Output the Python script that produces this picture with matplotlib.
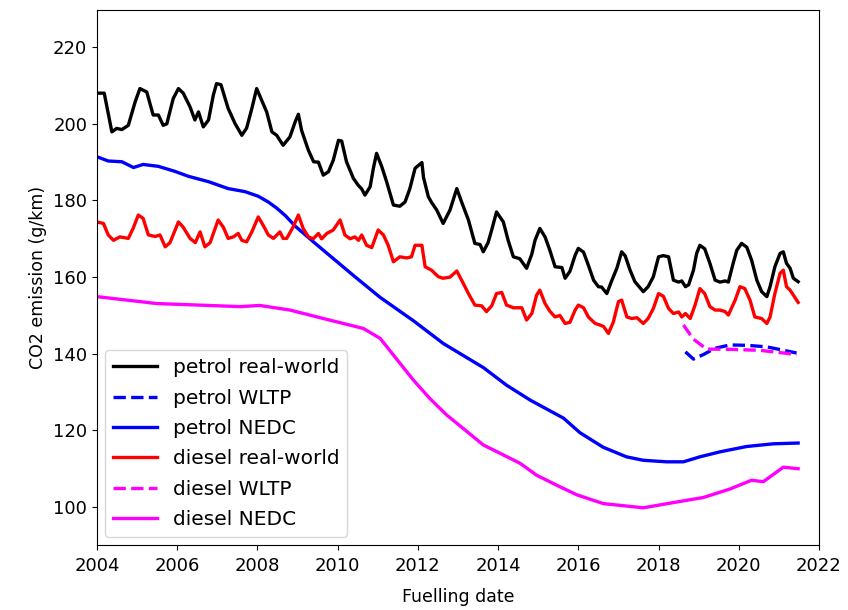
import matplotlib
matplotlib.use("Agg")
import matplotlib.pyplot as plt

# ---- data (decimal years, g/km) ----
petrol_rw_t = [2004.00, 2004.18, 2004.37, 2004.49, 2004.62, 2004.78, 2004.95, 2005.07, 2005.24, 2005.40,
               2005.53, 2005.65, 2005.74, 2005.90, 2006.03, 2006.15, 2006.32, 2006.44, 2006.53, 2006.65,
               2006.78, 2006.90, 2006.98, 2007.09, 2007.27, 2007.44, 2007.61, 2007.73, 2007.86, 2007.98,
               2008.11, 2008.23, 2008.36, 2008.48, 2008.64, 2008.81, 2008.94, 2009.02, 2009.10, 2009.27,
               2009.40, 2009.52, 2009.64, 2009.77, 2009.89, 2010.02, 2010.10, 2010.22, 2010.39, 2010.51,
               2010.60, 2010.68, 2010.81, 2010.89, 2010.97, 2011.10, 2011.22, 2011.39, 2011.55, 2011.68,
               2011.80, 2011.93, 2012.10, 2012.14, 2012.26, 2012.34, 2012.47, 2012.63, 2012.80, 2012.97,
               2013.09, 2013.26, 2013.42, 2013.55, 2013.63, 2013.75, 2013.84, 2013.96, 2014.13, 2014.25,
               2014.38, 2014.54, 2014.71, 2014.84, 2014.92, 2015.04, 2015.17, 2015.29, 2015.42, 2015.59,
               2015.67, 2015.79, 2015.92, 2016.00, 2016.13, 2016.25, 2016.38, 2016.50, 2016.58, 2016.71,
               2016.83, 2016.96, 2017.08, 2017.17, 2017.29, 2017.41, 2017.62, 2017.74, 2017.87, 2018.00,
               2018.12, 2018.25, 2018.37, 2018.50, 2018.58, 2018.67, 2018.75, 2018.87, 2018.95, 2019.03,
               2019.15, 2019.28, 2019.41, 2019.53, 2019.66, 2019.74, 2019.86, 2019.95, 2020.07, 2020.20,
               2020.32, 2020.45, 2020.57, 2020.70, 2020.78, 2020.90, 2021.03, 2021.11, 2021.19, 2021.28,
               2021.36, 2021.48]
petrol_rw = [208.0, 208.0, 197.9, 198.8, 198.5, 199.6, 205.7, 209.2, 208.3, 202.3,
             202.3, 199.6, 200.0, 206.6, 209.2, 208.0, 204.4, 201.0, 203.1, 199.2,
             201.0, 207.5, 210.5, 210.2, 204.0, 200.1, 197.0, 198.9, 204.0, 209.2,
             206.0, 203.1, 197.9, 197.0, 194.4, 196.6, 200.5, 202.5, 198.3, 193.1,
             190.1, 190.0, 186.6, 187.5, 190.5, 195.7, 195.5, 190.1, 185.8, 184.0,
             183.0, 181.4, 183.6, 188.4, 192.3, 188.8, 184.9, 178.8, 178.5, 179.6,
             183.1, 188.4, 189.9, 186.0, 181.0, 179.5, 177.5, 174.0, 177.5, 183.1,
             179.6, 174.9, 168.8, 168.5, 166.6, 169.0, 172.3, 177.0, 174.4, 169.6,
             165.3, 164.8, 162.3, 166.0, 169.6, 172.7, 170.5, 167.0, 162.7, 162.5,
             159.7, 161.5, 165.7, 167.5, 166.5, 163.1, 159.2, 157.5, 157.4, 155.7,
             159.0, 162.3, 166.6, 165.5, 161.8, 158.8, 156.2, 157.5, 160.1, 165.3,
             165.6, 165.3, 159.2, 158.7, 159.0, 157.5, 158.0, 161.8, 166.2, 168.3,
             167.4, 163.6, 159.2, 158.7, 159.0, 158.7, 163.6, 167.0, 168.8, 167.8,
             164.4, 159.2, 156.2, 154.9, 157.5, 162.7, 166.2, 166.6, 163.6, 162.3,
             159.7, 158.8]

diesel_rw_t = [2004.00, 2004.16, 2004.28, 2004.41, 2004.57, 2004.78, 2004.90, 2005.03, 2005.15, 2005.28,
               2005.45, 2005.57, 2005.70, 2005.82, 2006.03, 2006.15, 2006.32, 2006.45, 2006.57, 2006.69,
               2006.82, 2007.02, 2007.15, 2007.27, 2007.40, 2007.52, 2007.61, 2007.73, 2007.86, 2008.02,
               2008.15, 2008.27, 2008.40, 2008.56, 2008.64, 2008.73, 2008.89, 2009.02, 2009.14, 2009.27,
               2009.39, 2009.52, 2009.60, 2009.73, 2009.89, 2010.06, 2010.18, 2010.31, 2010.43, 2010.52,
               2010.60, 2010.72, 2010.85, 2011.01, 2011.14, 2011.26, 2011.39, 2011.55, 2011.72, 2011.84,
               2011.93, 2012.10, 2012.18, 2012.34, 2012.51, 2012.63, 2012.80, 2012.97, 2013.09, 2013.26,
               2013.42, 2013.59, 2013.71, 2013.84, 2013.96, 2014.09, 2014.21, 2014.38, 2014.59, 2014.71,
               2014.84, 2014.96, 2015.04, 2015.17, 2015.29, 2015.42, 2015.54, 2015.67, 2015.79, 2015.92,
               2016.00, 2016.13, 2016.25, 2016.42, 2016.54, 2016.63, 2016.75, 2016.87, 2017.00, 2017.08,
               2017.21, 2017.33, 2017.46, 2017.62, 2017.74, 2017.87, 2018.00, 2018.12, 2018.25, 2018.37,
               2018.50, 2018.58, 2018.67, 2018.79, 2018.91, 2019.03, 2019.15, 2019.28, 2019.41, 2019.53,
               2019.66, 2019.74, 2019.91, 2020.03, 2020.15, 2020.28, 2020.40, 2020.57, 2020.70, 2020.78,
               2020.90, 2021.03, 2021.11, 2021.19, 2021.28, 2021.36, 2021.48]
diesel_rw = [174.4, 174.0, 171.0, 169.6, 170.5, 170.1, 172.7, 176.2, 175.3, 171.0,
             170.6, 171.0, 167.9, 169.0, 174.4, 173.0, 170.1, 169.0, 171.8, 167.9,
             169.0, 174.9, 173.0, 170.1, 170.5, 171.4, 169.6, 169.2, 171.8, 175.7,
             173.4, 171.0, 170.1, 171.8, 170.1, 170.1, 173.1, 176.2, 172.7, 170.5,
             170.0, 171.4, 170.0, 171.4, 172.3, 174.9, 171.0, 170.0, 170.5, 169.6,
             171.0, 168.3, 167.7, 172.3, 171.0, 168.3, 164.0, 165.3, 165.0, 165.3,
             168.3, 168.3, 162.7, 161.8, 160.1, 159.7, 160.0, 161.6, 159.2, 155.7,
             152.7, 152.5, 151.0, 152.5, 155.7, 156.0, 152.7, 152.0, 152.0, 148.8,
             150.5, 155.3, 156.6, 153.1, 151.1, 149.6, 150.0, 147.9, 148.2, 151.4,
             152.7, 152.0, 149.6, 147.9, 147.5, 147.1, 145.3, 148.2, 153.6, 154.0,
             149.6, 149.2, 149.4, 147.9, 149.2, 151.8, 155.7, 155.0, 151.8, 150.5,
             150.9, 149.6, 150.5, 149.2, 152.7, 157.0, 155.7, 152.3, 151.4, 151.4,
             151.0, 150.1, 154.0, 157.5, 157.0, 154.0, 149.6, 149.2, 147.9, 149.6,
             155.7, 161.0, 161.8, 157.5, 156.6, 155.3, 153.4]

petrol_nedc_t = [2004.00, 2004.28, 2004.62, 2004.91, 2005.15, 2005.53, 2005.94, 2006.28, 2006.78, 2007.27,
                 2007.69, 2008.02, 2008.27, 2008.48, 2008.70, 2008.94, 2009.44, 2009.94, 2010.43, 2011.06,
                 2011.89, 2012.63, 2013.63, 2014.21, 2014.80, 2015.63, 2016.04, 2016.62, 2017.20, 2017.62,
                 2018.20, 2018.62, 2019.03, 2019.53, 2020.20, 2020.86, 2021.48]
petrol_nedc = [191.4, 190.3, 190.1, 188.6, 189.4, 188.9, 187.6, 186.3, 184.9, 183.1,
               182.3, 181.1, 179.6, 178.0, 176.0, 173.3, 168.8, 164.4, 160.1, 154.7,
               148.6, 142.7, 136.4, 131.8, 127.9, 123.2, 119.4, 115.6, 113.1, 112.2,
               111.8, 111.8, 113.1, 114.4, 115.8, 116.5, 116.7]

diesel_nedc_t = [2004.00, 2005.49, 2007.57, 2008.06, 2008.81, 2009.64, 2010.64, 2011.06, 2011.47, 2011.89,
                 2012.30, 2012.72, 2013.13, 2013.63, 2014.13, 2014.55, 2014.96, 2015.46, 2015.96, 2016.62,
                 2017.62, 2018.28, 2019.12, 2019.78, 2020.32, 2020.61, 2021.11, 2021.48]
diesel_nedc = [154.9, 153.1, 152.3, 152.6, 151.4, 149.2, 146.6, 144.0, 138.6, 133.1,
               128.3, 124.0, 120.5, 116.2, 113.6, 111.4, 108.3, 105.7, 103.2, 100.9,
               99.8, 101.0, 102.5, 104.7, 107.0, 106.6, 110.4, 110.0]

petrol_wltp_t = [2018.67, 2018.87, 2019.12, 2019.40, 2019.78, 2020.20, 2020.70, 2021.44]
petrol_wltp = [140.5, 138.6, 139.8, 141.4, 142.3, 142.2, 141.8, 140.2]

diesel_wltp_t = [2018.62, 2018.87, 2019.20, 2019.61, 2020.53, 2021.44]
diesel_wltp = [147.5, 143.8, 141.2, 141.2, 140.9, 139.8]

x_ticks = [2004, 2006, 2008, 2010, 2012, 2014, 2016, 2018, 2020, 2022]
y_ticks = [100, 120, 140, 160, 180, 200, 220]

# ---- figure ----
plt.rcParams['font.family'] = ['DejaVu Sans']
fig = plt.figure(figsize=(8.48, 6.10), dpi=100)
ax = fig.add_axes([0.1144, 0.1066, 0.8514, 0.877])

lw = 2.4
ax.plot(petrol_rw_t, petrol_rw, color='black', lw=lw, label='petrol real-world')
ax.plot(petrol_wltp_t, petrol_wltp, color='blue', lw=lw, ls='--', label='petrol WLTP')
ax.plot(petrol_nedc_t, petrol_nedc, color='blue', lw=lw, label='petrol NEDC')
ax.plot(diesel_rw_t, diesel_rw, color='red', lw=lw, label='diesel real-world')
ax.plot(diesel_wltp_t, diesel_wltp, color='magenta', lw=lw, ls='--', label='diesel WLTP')
ax.plot(diesel_nedc_t, diesel_nedc, color='magenta', lw=lw, label='diesel NEDC')

ax.set_xlim(2004, 2022)
ax.set_ylim(90.1, 229.7)
ax.set_xticks(x_ticks)
ax.set_yticks(y_ticks)
ax.tick_params(labelsize=13)
ax.tick_params(axis='x', pad=5.5)
ax.set_xlabel('Fuelling date', fontsize=12.5, labelpad=9)
ax.set_ylabel('CO2 emission (g/km)', fontsize=12.5, labelpad=4)

ax.legend(loc='lower left', fontsize=14.5, borderaxespad=0.4, borderpad=0.4,
          labelspacing=0.56, handlelength=2.2, handletextpad=0.75)

fig.savefig('out.png', dpi=100)
